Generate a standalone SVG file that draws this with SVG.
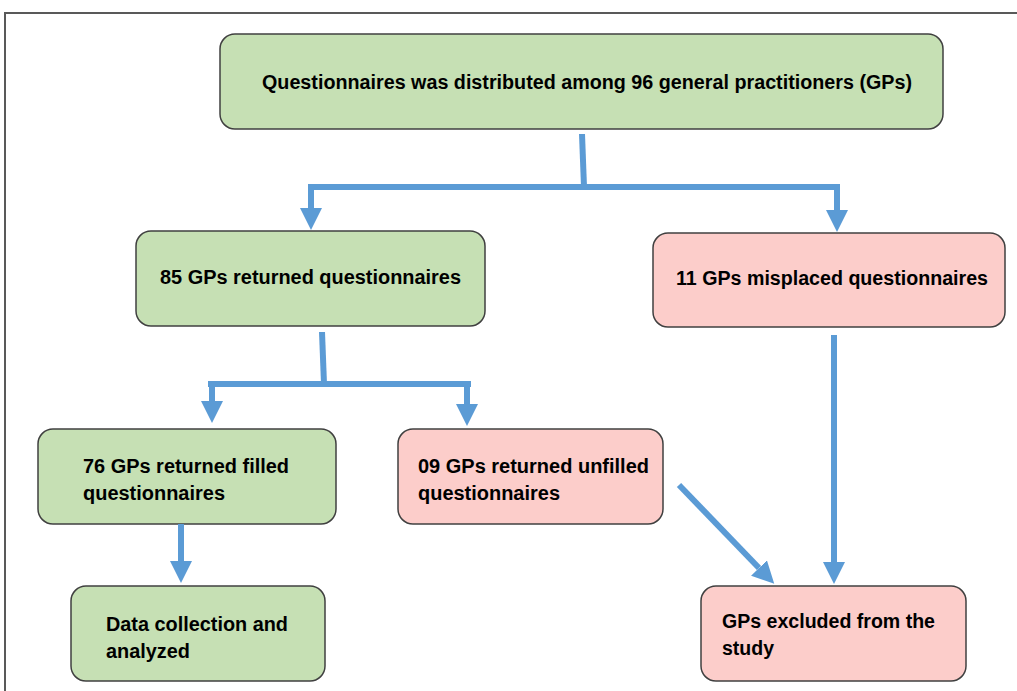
<svg xmlns="http://www.w3.org/2000/svg" width="1017" height="691" viewBox="0 0 1017 691">
<style>
.g{fill:#c6e0b4;stroke:#404040;stroke-width:1.5}
.p{fill:#fccdca;stroke:#404040;stroke-width:1.5}
.t{font-family:"Liberation Sans",Arial,sans-serif;font-weight:bold;font-size:19.5px;fill:#000}
.c{fill:none;stroke:#5b9bd5;stroke-width:6}
</style>
<defs>
<marker id="ah" viewBox="0 -11 22 22" markerUnits="userSpaceOnUse" markerWidth="22" markerHeight="22" refX="0" refY="0" orient="auto">
<path d="M0,-11 L22,0 L0,11 z" fill="#5b9bd5"/>
</marker>
</defs>
<rect width="1017" height="691" fill="#fff"/>
<path d="M5,691 L5,13 L1017,13" fill="none" stroke="#595959" stroke-width="2"/>
<g id="n1"><rect class="g" x="220" y="34" width="723" height="95" rx="15"/>
<text class="t" x="262" y="89" textLength="650" lengthAdjust="spacingAndGlyphs">Questionnaires was distributed among 96 general practitioners (GPs)</text></g>
<g id="n2"><rect class="g" x="136" y="231" width="349" height="95" rx="15"/>
<text class="t" x="160" y="284" textLength="301" lengthAdjust="spacingAndGlyphs">85 GPs returned questionnaires</text></g>
<g id="n3"><rect class="p" x="653" y="233" width="352" height="94" rx="15"/>
<text class="t" x="676" y="285" textLength="312" lengthAdjust="spacingAndGlyphs">11 GPs misplaced questionnaires</text></g>
<g id="n4"><rect class="g" x="38" y="429" width="298" height="95" rx="15"/>
<text class="t" x="83" y="473" textLength="206" lengthAdjust="spacingAndGlyphs">76 GPs returned filled</text>
<text class="t" x="83" y="500" textLength="142" lengthAdjust="spacingAndGlyphs">questionnaires</text></g>
<g id="n5"><rect class="p" x="398" y="429" width="265" height="95" rx="15"/>
<text class="t" x="418" y="473" textLength="231" lengthAdjust="spacingAndGlyphs">09 GPs returned unfilled</text>
<text class="t" x="418" y="500" textLength="142" lengthAdjust="spacingAndGlyphs">questionnaires</text></g>
<g id="n6"><rect class="g" x="71" y="586" width="254" height="95" rx="15"/>
<text class="t" x="106" y="631" textLength="182" lengthAdjust="spacingAndGlyphs">Data collection and</text>
<text class="t" x="106" y="658" textLength="84" lengthAdjust="spacingAndGlyphs">analyzed</text></g>
<g id="n7"><rect class="p" x="701" y="586" width="265" height="95" rx="15"/>
<text class="t" x="722" y="628" textLength="213" lengthAdjust="spacingAndGlyphs">GPs excluded from the</text>
<text class="t" x="722" y="655" textLength="52" lengthAdjust="spacingAndGlyphs">study</text></g>
<g id="connectors">
<path class="c" d="M582,134 L584,187"/>
<path class="c" d="M308,187 L840,187"/>
<path class="c" d="M311,187 L311,208" marker-end="url(#ah)"/>
<path class="c" d="M837,187 L837,210" marker-end="url(#ah)"/>
<path class="c" d="M322,332 L324,384"/>
<path class="c" d="M208,384 L471,384"/>
<path class="c" d="M212,384 L212,401" marker-end="url(#ah)"/>
<path class="c" d="M467,384 L467,404" marker-end="url(#ah)"/>
<path class="c" d="M181,524 L181,561" marker-end="url(#ah)"/>
<path class="c" d="M834,335 L834,562" marker-end="url(#ah)"/>
<path class="c" d="M679,485 L759,568" marker-end="url(#ah)"/>
</g>
</svg>
